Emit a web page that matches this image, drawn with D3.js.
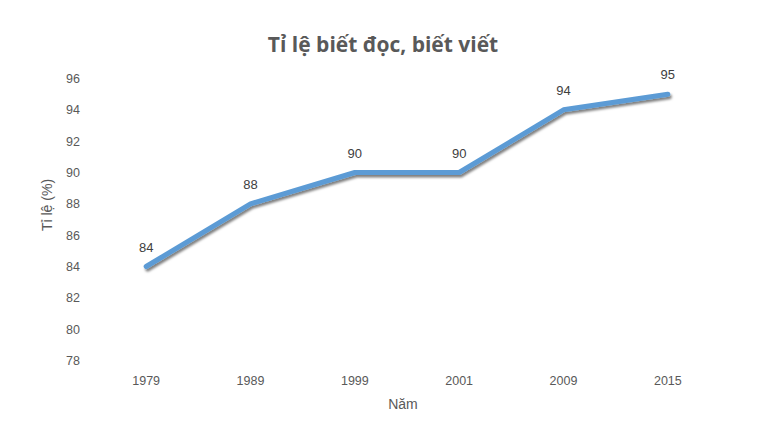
<!DOCTYPE html>
<html><head><meta charset="utf-8">
<script src="https://cdn.jsdelivr.net/npm/d3@7"></script>
<style>body{margin:0;background:#fff}svg{display:block}</style>
</head><body><svg id="c" width="766" height="446"></svg>
<script>
const categories = ["1979","1989","1999","2001","2009","2015"];
const values = [84, 88, 90, 90, 94, 95];
const yTicks = [78,80,82,84,86,88,90,92,94,96];
const title = "Tỉ lệ biết đọc, biết viết";
const xTitle = "Năm";
const yTitle = "Tỉ lệ (%)";

const svg = d3.select("#c");
const font = "'Liberation Sans', Arial, sans-serif";
const x = d3.scaleBand().domain(categories).range([94, 720]);
const y = d3.scaleLinear().domain([78, 96]).range([360.5, 78.5]);

const defs = svg.append("defs");
const f = defs.append("filter").attr("id","sh").attr("x","-10%").attr("y","-10%").attr("width","120%").attr("height","130%");
f.append("feDropShadow").attr("dx",1.5).attr("dy",2.5).attr("stdDeviation",1.2).attr("flood-color","#000").attr("flood-opacity",0.5);

svg.append("text").attr("x",383).attr("y",52).attr("text-anchor","middle")
  .attr("font-family","'Open Sans', sans-serif").attr("font-weight","bold").attr("font-size",21).attr("fill","#595959").text(title);

const yAxis = svg.append("g").attr("transform","translate(80,0)")
  .call(d3.axisLeft(y).tickValues(yTicks).tickSize(0).tickPadding(0));
yAxis.select(".domain").remove();
yAxis.selectAll("text").attr("font-family",font).attr("font-size",12.5).attr("fill","#595959");

const xAxis = svg.append("g").attr("transform","translate(0,372)")
  .call(d3.axisBottom(x).tickSize(0).tickPadding(4));
xAxis.select(".domain").remove();
xAxis.selectAll("text").attr("font-family",font).attr("font-size",12.5).attr("fill","#595959");

svg.append("text").attr("transform","translate(52,205) rotate(-90)").attr("text-anchor","middle")
  .attr("font-family",font).attr("font-size",14).attr("fill","#595959").text(yTitle);
svg.append("text").attr("x",403).attr("y",409).attr("text-anchor","middle")
  .attr("font-family",font).attr("font-size",14).attr("fill","#595959").text(xTitle);

const line = d3.line().x((d,i)=>x(categories[i])+x.bandwidth()/2).y(d=>y(d));
svg.append("path").datum(values).attr("d",line).attr("fill","none")
  .attr("stroke","#5B9BD5").attr("stroke-width",5).attr("stroke-linejoin","round").attr("stroke-linecap","round")
  .attr("filter","url(#sh)");

svg.selectAll(".lbl").data(values).enter().append("text")
  .attr("x",(d,i)=>x(categories[i])+x.bandwidth()/2)
  .attr("y",d=>y(d)-15).attr("text-anchor","middle")
  .attr("font-family",font).attr("font-size",13).attr("fill","#404040").text(d=>d);
</script></body></html>
